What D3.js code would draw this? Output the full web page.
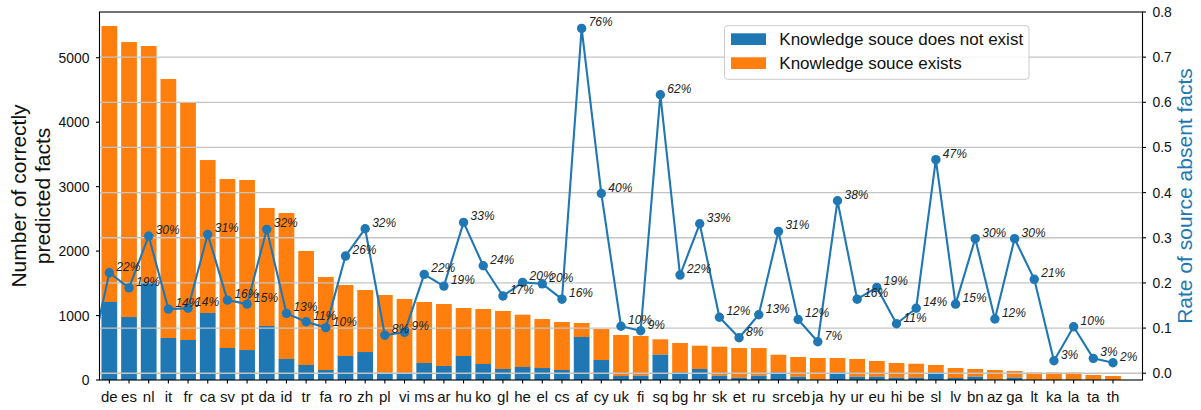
<!DOCTYPE html>
<html>
<head>
<meta charset="utf-8">
<script src="https://cdn.jsdelivr.net/npm/d3@7"></script>
<style>
  html, body { margin: 0; padding: 0; background: #fff; }
  svg { display: block; font-family: "Liberation Sans", Arial, Helvetica, sans-serif; }
</style>
</head>
<body>
<svg id="chart" width="1201" height="410"></svg>
<script>
// Languages, ordered by number of correctly predicted facts
const languages = ["de","es","nl","it","fr","ca","sv","pt","da","id","tr","fa","ro","zh","pl","vi","ms","ar","hu","ko",
  "gl","he","el","cs","af","cy","uk","fi","sq","bg","hr","sk","et","ru","sr","ceb","ja","hy","ur","eu",
  "hi","be","sl","lv","bn","az","ga","lt","ka","la","ta","th"];

// Total correctly predicted facts per language
const totalFacts = [5493,5244,5182,4670,4298,3413,3118,3103,2669,2591,2002,1598,1474,1396,1319,1257,1210,1179,1117,1102,
  1071,1013,946,900,884,791,698,683,631,574,532,517,496,496,392,357,341,341,326,295,
  264,253,233,186,171,155,140,116,116,116,78,62];

// Of those, facts whose knowledge source does not exist
const absentFacts = [1210,977,1516,652,621,1040,497,465,838,326,233,155,372,434,113,113,264,217,372,248,
  171,202,186,155,667,310,62,67,393,120,171,67,36,67,119,51,5,119,51,51,
  36,36,119,31,51,8,36,4,2,6,2,1];

// Rate of source-absent facts per language
const absentRate = [0.2225,0.189,0.304,0.142,0.144,0.3076,0.162,0.153,0.3186,0.1326,0.114,0.101,0.2595,0.32,0.084,0.0906,0.219,0.193,0.334,0.238,
  0.171,0.2013,0.198,0.164,0.7637,0.398,0.104,0.094,0.6167,0.2174,0.331,0.124,0.0786,0.1295,0.314,0.119,0.0698,0.382,0.164,0.19,
  0.1096,0.144,0.473,0.153,0.298,0.12,0.298,0.208,0.0277,0.103,0.033,0.0233];

const countTicks = [0,1000,2000,3000,4000,5000];
const rateTicks = [0.0,0.1,0.2,0.3,0.4,0.5,0.6,0.7,0.8];
const legendLabels = ["Knowledge souce does not exist", "Knowledge souce exists"];

const BLUE = "#1f77b4", ORANGE = "#ff7f0e";
const m = { left: 99.5, right: 1142.5, top: 12, bottom: 380 };

const svg = d3.select("#chart");

// One slot per language plus an empty slot at the right end
const x = d3.scaleLinear().domain([-0.5, languages.length + 0.5]).range([m.left, m.right]);
const step = x(1) - x(0);
const barW = step * 0.8;
const yCount = d3.scaleLinear().domain([0, 5710]).range([m.bottom, m.top]);
const yRate = d3.scaleLinear().domain([-0.015, 0.8]).range([m.bottom, m.top]);

svg.append("defs").append("clipPath").attr("id", "plot")
  .append("rect").attr("x", m.left).attr("y", m.top)
  .attr("width", m.right - m.left).attr("height", m.bottom - m.top);

// Stacked bars: source absent (blue) at the bottom, source present (orange) above
const bars = svg.append("g");
bars.selectAll("rect.exists").data(languages).join("rect")
  .attr("class", "exists")
  .attr("x", (d, i) => x(i) - barW / 2)
  .attr("width", barW)
  .attr("y", (d, i) => yCount(totalFacts[i]))
  .attr("height", (d, i) => yCount(absentFacts[i]) - yCount(totalFacts[i]))
  .attr("fill", ORANGE);
bars.selectAll("rect.absent").data(languages).join("rect")
  .attr("class", "absent")
  .attr("x", (d, i) => x(i) - barW / 2)
  .attr("width", barW)
  .attr("y", (d, i) => yCount(absentFacts[i]))
  .attr("height", (d, i) => yCount(0) - yCount(absentFacts[i]))
  .attr("fill", BLUE);

// Horizontal grid from the rate axis, drawn over the bars
svg.append("g").selectAll("line").data(rateTicks.slice(0, -1)).join("line")
  .attr("x1", m.left).attr("x2", m.right)
  .attr("y1", d => yRate(d)).attr("y2", d => yRate(d))
  .attr("stroke", "#c4c4c4").attr("stroke-width", 1.3);

// Rate line; it wraps in from the last language and is clipped at the left edge
const linePts = [[-1, absentRate[absentRate.length - 1]]].concat(absentRate.map((r, i) => [i, r]));
svg.append("path")
  .attr("clip-path", "url(#plot)")
  .attr("d", d3.line().x(d => x(d[0])).y(d => yRate(d[1]))(linePts))
  .attr("fill", "none").attr("stroke", BLUE).attr("stroke-width", 2.1)
  .attr("stroke-linejoin", "round");

svg.append("g").selectAll("circle").data(absentRate).join("circle")
  .attr("cx", (d, i) => x(i)).attr("cy", d => yRate(d)).attr("r", 4.7)
  .attr("fill", BLUE);

svg.append("g").selectAll("text").data(absentRate).join("text")
  .attr("x", (d, i) => x(i) + 7).attr("y", d => yRate(d) - 2)
  .attr("font-size", 12).attr("font-style", "italic").attr("fill", "#222")
  .text(d => d3.format(".0%")(d));

// Axes frame
svg.append("rect").attr("x", m.left).attr("y", m.top)
  .attr("width", m.right - m.left).attr("height", m.bottom - m.top)
  .attr("fill", "none").attr("stroke", "#000").attr("stroke-width", 1.1);

// Bottom axis: language codes
const xAxis = svg.append("g");
xAxis.selectAll("line").data(languages).join("line")
  .attr("x1", (d, i) => x(i)).attr("x2", (d, i) => x(i))
  .attr("y1", m.bottom).attr("y2", m.bottom + 3.5)
  .attr("stroke", "#000").attr("stroke-width", 1.1);
xAxis.selectAll("text").data(languages).join("text")
  .attr("x", (d, i) => x(i)).attr("y", 402)
  .attr("text-anchor", "middle").attr("font-size", 15).attr("fill", "#111")
  .text(d => d);

// Left axis: counts
const yl = svg.append("g");
yl.selectAll("line").data(countTicks).join("line")
  .attr("x1", m.left - 3.5).attr("x2", m.left)
  .attr("y1", d => yCount(d)).attr("y2", d => yCount(d))
  .attr("stroke", "#000").attr("stroke-width", 1.1);
yl.selectAll("text").data(countTicks).join("text")
  .attr("x", m.left - 10).attr("y", d => yCount(d)).attr("dy", "0.36em")
  .attr("text-anchor", "end").attr("font-size", 13.9).attr("fill", "#111")
  .text(d => d);

// Right axis: rate
const yr = svg.append("g");
yr.selectAll("line").data(rateTicks).join("line")
  .attr("x1", m.right).attr("x2", m.right + 3.5)
  .attr("y1", d => yRate(d)).attr("y2", d => yRate(d))
  .attr("stroke", "#000").attr("stroke-width", 1.1);
yr.selectAll("text").data(rateTicks).join("text")
  .attr("x", m.right + 10).attr("y", d => yRate(d)).attr("dy", "0.36em")
  .attr("font-size", 13.9).attr("fill", "#111")
  .text(d => d3.format(".1f")(d));

// Axis titles
const midY = (m.top + m.bottom) / 2;
const lt = svg.append("text").attr("transform", "rotate(-90)")
  .attr("text-anchor", "middle").attr("font-size", 21).attr("fill", "#111");
lt.append("tspan").attr("x", -midY).attr("y", 25.5).text("Number of correctly");
lt.append("tspan").attr("x", -midY).attr("y", 50).text("predicted facts");

svg.append("text").attr("transform", "rotate(-90)")
  .attr("x", -midY).attr("y", 1192)
  .attr("text-anchor", "middle").attr("font-size", 21).attr("fill", BLUE)
  .text("Rate of source absent facts");

// Legend
const lg = svg.append("g");
lg.append("rect").attr("x", 724.5).attr("y", 25.7).attr("width", 304.5).attr("height", 53.6)
  .attr("rx", 3).attr("fill", "#fff").attr("fill-opacity", 0.85)
  .attr("stroke", "#cccccc").attr("stroke-width", 1);
[BLUE, ORANGE].forEach((c, i) => {
  lg.append("rect").attr("x", 731).attr("y", 33.3 + i * 24).attr("width", 35).attr("height", 11.7).attr("fill", c);
  lg.append("text").attr("x", 779.3).attr("y", 45.3 + i * 24)
    .attr("font-size", 17).attr("fill", "#111").text(legendLabels[i]);
});
</script>
</body>
</html>
